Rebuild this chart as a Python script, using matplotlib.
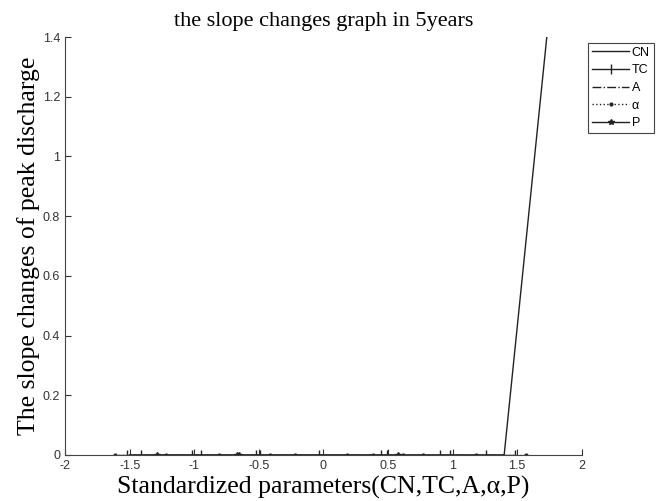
import numpy as np
import matplotlib
matplotlib.use("Agg")
import matplotlib.pyplot as plt
from matplotlib.ticker import FormatStrFormatter

# standardized parameter values and slope changes (5 years)
cn_x = [-1.5, -0.5, 0.5, 1.4, 1.73]
cn_y = [0, 0, 0, 0, 1.4]
tc_x = [-1.52, -1.41, -1.02, -0.95, -0.52, -0.49, -0.03, 0.45, 0.49, 0.90, 0.98, 1.26, 1.48]
a_x = [-1.6, -1.0, -0.4, 0.2, 0.8, 1.4]
alpha_x = [-1.61, -1.22, -0.81, -0.41, -0.22, 0.18, 0.385, 0.62, 0.77, 1.18, 1.57]
p_x = [-1.29, -0.67, -0.65, 0.58]

labels = ["CN", "TC", "A", "α", "P"]

fig = plt.figure(figsize=(6.64, 5.01), dpi=100)
ax = fig.add_axes([0.098, 0.092, 0.778, 0.834])

ax.plot(cn_x, cn_y, "-", color="#222222", lw=1.0, label=labels[0])
ax.plot(tc_x, np.zeros(len(tc_x)), "-", marker="|", ms=7, color="#222222", lw=1.0, label=labels[1])
ax.plot(a_x, np.zeros(len(a_x)), "-.", color="#222222", lw=1.0, label=labels[2])
ax.plot(alpha_x, np.zeros(len(alpha_x)), ":", marker=".", ms=4, color="#222222", lw=1.0, label=labels[3])
ax.plot(p_x, np.zeros(len(p_x)), "-", marker="*", ms=4, color="#222222", lw=1.0, label=labels[4])

ax.set_xlim(-2, 2)
ax.set_ylim(0, 1.4)
ax.set_xticks(np.arange(-2, 2.01, 0.5))
ax.set_yticks(np.arange(0, 1.41, 0.2))
ax.xaxis.set_major_formatter(FormatStrFormatter("%g"))
ax.yaxis.set_major_formatter(FormatStrFormatter("%g"))
ax.spines["top"].set_visible(False)
ax.spines["right"].set_visible(False)
for s in ["left", "bottom"]:
    ax.spines[s].set_color("#444444")
ax.tick_params(direction="in", length=4, labelsize=9, colors="#333333")
for t in ax.get_xticklabels() + ax.get_yticklabels():
    t.set_family("Liberation Sans")

serif = "Liberation Serif"
ax.set_title("the slope changes graph in 5years", family=serif, fontsize=16, pad=8)
ax.set_xlabel("Standardized parameters(CN,TC,A,α,P)", family=serif, fontsize=18.5, labelpad=3)
ax.set_ylabel("The slope changes of peak discharge", family=serif, fontsize=18.5, labelpad=2)

leg = ax.legend(loc="upper left", bbox_to_anchor=(588 / 664, 1 - 43 / 501),
                bbox_transform=fig.transFigure, fancybox=False, framealpha=1,
                edgecolor="#444444", fontsize=9, handlelength=3.0,
                handletextpad=0.2, borderpad=0.3, labelspacing=0.45,
                borderaxespad=0)
leg.get_frame().set_linewidth(0.8)
for t in leg.get_texts():
    t.set_family("Liberation Sans")

fig.savefig("out.png", dpi=100)
